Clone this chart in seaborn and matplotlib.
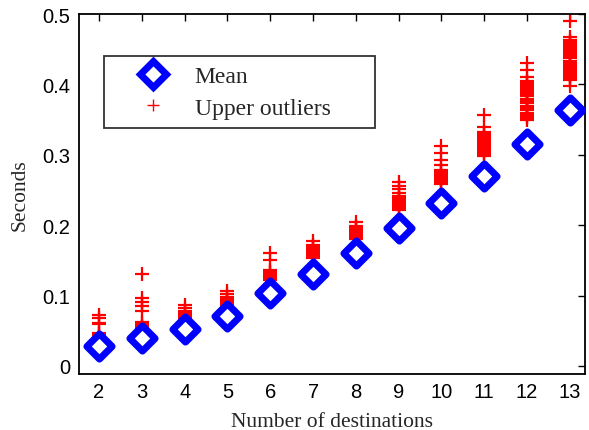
import pandas as pd
import numpy as np
import matplotlib
matplotlib.use("Agg")
import matplotlib.pyplot as plt
import seaborn as sns
from matplotlib.lines import Line2D

# number of destinations and mean time (seconds)
destinations = [2, 3, 4, 5, 6, 7, 8, 9, 10, 11, 12, 13]
mean_seconds = [0.028, 0.040, 0.053, 0.071, 0.103, 0.131, 0.161, 0.196, 0.231, 0.270, 0.315, 0.363]

# upper outliers per number of destinations
outliers_2 = [0.072, 0.068, 0.061, 0.059, 0.047, 0.045, 0.043, 0.041, 0.039]
outliers_3 = [0.131, 0.097, 0.091, 0.085, 0.078, 0.062, 0.059, 0.057, 0.055, 0.053, 0.051]
outliers_4 = [0.087, 0.083, 0.078, 0.076, 0.074, 0.072, 0.070, 0.068, 0.066]
outliers_5 = [0.107, 0.102, 0.098, 0.096, 0.094, 0.092, 0.090, 0.088, 0.086, 0.084, 0.082]
outliers_6 = [0.161, 0.150, 0.137, 0.134, 0.132, 0.130, 0.128, 0.126, 0.124, 0.122]
outliers_7 = [0.178, 0.172, 0.170, 0.168, 0.166, 0.164, 0.162, 0.160, 0.158, 0.156, 0.154]
outliers_8 = [0.205, 0.199, 0.197, 0.195, 0.193, 0.191, 0.189, 0.187, 0.185, 0.183, 0.181]
outliers_9 = [0.262, 0.256, 0.251, 0.246, 0.241, 0.238, 0.236, 0.234, 0.232, 0.230,
              0.228, 0.226, 0.224, 0.222]
outliers_10 = [0.313, 0.303, 0.293, 0.285, 0.278, 0.276, 0.274, 0.272, 0.270, 0.268,
               0.266, 0.264, 0.262, 0.260, 0.258]
outliers_11 = [0.357, 0.339, 0.332, 0.329, 0.327, 0.325, 0.323, 0.321, 0.319, 0.317,
               0.315, 0.313, 0.311, 0.309, 0.307, 0.305, 0.303, 0.301, 0.299]
outliers_12 = [0.430, 0.420, 0.411, 0.405, 0.403, 0.400, 0.398, 0.395, 0.393, 0.390,
               0.388, 0.385, 0.383, 0.380, 0.378, 0.375, 0.373, 0.370, 0.368, 0.365,
               0.363, 0.360, 0.358, 0.355, 0.353, 0.350]
outliers_13 = [0.490, 0.468, 0.463, 0.461, 0.458, 0.456, 0.453, 0.451, 0.448, 0.446,
               0.443, 0.441, 0.438, 0.434, 0.431, 0.428, 0.426, 0.423, 0.421, 0.418,
               0.416, 0.413, 0.411, 0.408, 0.406, 0.398]

yticks = [0, 0.1, 0.2, 0.3, 0.4, 0.5]
ytick_labels = ["0", "0.1", "0.2", "0.3", "0.4", "0.5"]

all_outliers = [outliers_2, outliers_3, outliers_4, outliers_5, outliers_6, outliers_7,
                outliers_8, outliers_9, outliers_10, outliers_11, outliers_12, outliers_13]
out_df = pd.DataFrame({
    "dest": [d for d, vals in zip(destinations, all_outliers) for _ in vals],
    "sec": [v for vals in all_outliers for v in vals],
})
mean_df = pd.DataFrame({"dest": destinations, "sec": mean_seconds})

sns.set_style("white")
plt.rcParams["font.family"] = ["Liberation Sans", "DejaVu Sans"]

fig = plt.figure(figsize=(5.89, 4.31), dpi=100)
ax = fig.add_axes([0.134, 0.130, 0.859, 0.835])

sns.scatterplot(data=out_df, x="dest", y="sec", marker="+", color="red",
                s=90, linewidth=1.6, ax=ax, legend=False, zorder=2)
sns.scatterplot(data=mean_df, x="dest", y="sec", marker="D", s=165,
                facecolor="white", edgecolor="blue", linewidth=5,
                ax=ax, legend=False, zorder=3)

ax.set_xlim(1.53, 13.35)
ax.set_ylim(-0.0114, 0.5)
ax.set_xticks(destinations)
ax.set_xticklabels([str(d) for d in destinations])
ax.set_yticks(yticks)
ax.set_yticklabels(ytick_labels)
ax.tick_params(direction="in", length=5, width=1, labelsize=14.5, colors="black",
               top=True, right=True, pad=6)
for sp in ax.spines.values():
    sp.set_visible(True)
    sp.set_color("black")
    sp.set_linewidth(1.3)

ax.set_xlabel("Number of destinations", family="Liberation Serif", fontsize=15.5,
              labelpad=8)
ax.set_ylabel("Seconds", family="Liberation Serif", fontsize=15.5, labelpad=9)

handles = [
    Line2D([], [], linestyle="none", marker="D", markersize=13, markerfacecolor="white",
           markeredgecolor="blue", markeredgewidth=5),
    Line2D([], [], linestyle="none", marker="+", markersize=8, color="red",
           markeredgewidth=1),
]
leg = ax.legend(handles, ["Mean", "Upper outliers"], loc="upper left",
                bbox_to_anchor=(0.049, 0.689, 0.536, 0.194), mode="expand",
                prop={"family": "Liberation Serif", "size": 17},
                frameon=True, fancybox=False, borderpad=0.4, labelspacing=0.42,
                handlelength=3.4, handletextpad=0.05, borderaxespad=0)
leg.get_frame().set_edgecolor("black")
leg.get_frame().set_linewidth(1.3)

fig.savefig("out.png", dpi=100)
